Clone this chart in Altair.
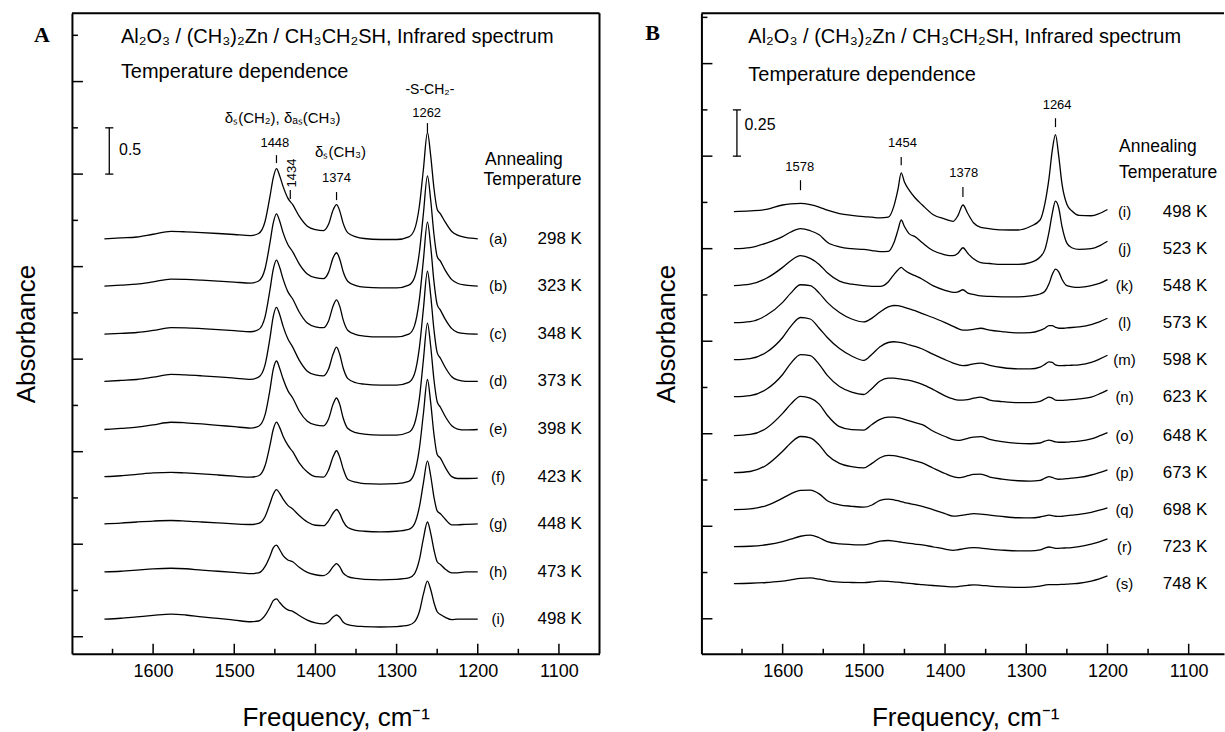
import altair as alt
import pandas as pd

FONT = "Liberation Sans"
SERIF = "Liberation Serif"
H = 641          # plot height (both panels)
W_A = 528        # panel A plot width
W_B = 523        # panel B plot width (right side cut by the page edge)

# ---------------- Panel A (298 K - 498 K) ----------------
FREQ_A = [1660, 1640, 1620, 1600, 1578, 1560, 1540, 1520, 1500, 1480,
          1470, 1462, 1456, 1452, 1448, 1444, 1440, 1434, 1428, 1420,
          1410, 1400, 1390, 1384, 1378, 1374, 1370, 1366, 1360, 1350,
          1340, 1320, 1300, 1285, 1278, 1272, 1267, 1262, 1258, 1254,
          1250, 1246, 1240, 1232, 1225, 1215, 1200]

SPEC_A_a = [0.00, 0.01, 0.02, 0.05, 0.08, 0.076, 0.068, 0.058, 0.047, 0.036,
            0.058, 0.19, 0.46, 0.66, 0.76, 0.68, 0.57, 0.44, 0.37, 0.245,
            0.137, 0.10, 0.09, 0.155, 0.317, 0.37, 0.30, 0.173, 0.065, 0.022,
            0.004, -0.007, -0.007, 0.022, 0.10, 0.35, 0.75, 1.15, 0.90, 0.55,
            0.32, 0.27, 0.18, 0.08, 0.04, 0.015, 0.00]
SPEC_A_b = [0.00, 0.01, 0.02, 0.045, 0.075, 0.072, 0.064, 0.054, 0.043, 0.032,
            0.055, 0.19, 0.47, 0.68, 0.78, 0.70, 0.58, 0.45, 0.37, 0.24,
            0.13, 0.09, 0.08, 0.145, 0.31, 0.36, 0.29, 0.16, 0.05, 0.005,
            -0.012, -0.02, -0.02, 0.01, 0.09, 0.36, 0.78, 1.19, 0.93, 0.56,
            0.32, 0.27, 0.17, 0.07, 0.03, 0.01, 0.00]
SPEC_A_c = [0.00, 0.008, 0.018, 0.04, 0.07, 0.068, 0.06, 0.05, 0.038, 0.026,
            0.05, 0.19, 0.48, 0.70, 0.80, 0.72, 0.60, 0.46, 0.38, 0.24,
            0.12, 0.08, 0.07, 0.14, 0.31, 0.37, 0.30, 0.16, 0.04, -0.005,
            -0.02, -0.03, -0.03, 0.0, 0.09, 0.37, 0.80, 1.21, 0.95, 0.57,
            0.32, 0.26, 0.16, 0.06, 0.02, 0.005, 0.00]
SPEC_A_d = [0.00, 0.01, 0.02, 0.045, 0.075, 0.07, 0.06, 0.048, 0.035, 0.022,
            0.045, 0.18, 0.47, 0.70, 0.80, 0.72, 0.60, 0.46, 0.37, 0.23,
            0.11, 0.07, 0.06, 0.13, 0.30, 0.37, 0.29, 0.15, 0.03, -0.015,
            -0.03, -0.04, -0.04, -0.01, 0.08, 0.36, 0.78, 1.19, 0.93, 0.56,
            0.31, 0.25, 0.15, 0.05, 0.015, 0.0, 0.00]
SPEC_A_e = [0.00, 0.012, 0.025, 0.05, 0.078, 0.072, 0.06, 0.045, 0.03, 0.015,
            0.035, 0.16, 0.43, 0.65, 0.74, 0.66, 0.55, 0.42, 0.34, 0.20,
            0.09, 0.05, 0.04, 0.11, 0.28, 0.34, 0.27, 0.13, 0.01, -0.035,
            -0.05, -0.06, -0.06, -0.03, 0.06, 0.33, 0.75, 1.15, 0.90, 0.54,
            0.30, 0.24, 0.14, 0.04, 0.005, -0.005, 0.00]
SPEC_A_f = [0.00, 0.01, 0.025, 0.04, 0.047, 0.04, 0.03, 0.018, 0.005, -0.005,
            0.01, 0.12, 0.34, 0.51, 0.59, 0.53, 0.44, 0.34, 0.27, 0.15,
            0.05, 0.0, -0.005, 0.07, 0.22, 0.28, 0.21, 0.09, -0.03, -0.06,
            -0.075, -0.08, -0.075, -0.05, 0.04, 0.30, 0.68, 1.05, 0.80, 0.46,
            0.24, 0.20, 0.10, 0.0, -0.02, -0.02, -0.015]
SPEC_A_g = [0.00, 0.008, 0.02, 0.03, 0.036, 0.03, 0.02, 0.01, 0.0, -0.007,
            0.005, 0.08, 0.22, 0.32, 0.37, 0.33, 0.27, 0.2, 0.16, 0.09,
            0.02, -0.015, -0.02, 0.03, 0.12, 0.155, 0.11, 0.03, -0.04, -0.07,
            -0.08, -0.086, -0.08, -0.06, 0.0, 0.18, 0.44, 0.68, 0.52, 0.29,
            0.14, 0.11, 0.05, -0.01, -0.01, -0.005, 0.00]
SPEC_A_h = [0.00, 0.008, 0.02, 0.033, 0.04, 0.035, 0.02, 0.008, -0.005, -0.018,
            -0.01, 0.06, 0.17, 0.26, 0.29, 0.24, 0.18, 0.13, 0.11, 0.05,
            -0.005, -0.03, -0.04, -0.01, 0.06, 0.09, 0.055, -0.01, -0.05, -0.07,
            -0.08, -0.085, -0.08, -0.065, -0.02, 0.13, 0.36, 0.54, 0.42, 0.24,
            0.11, 0.08, 0.03, -0.01, -0.01, 0.0, 0.00]
SPEC_A_i = [0.00, 0.01, 0.025, 0.04, 0.054, 0.045, 0.025, 0.008, -0.01, -0.028,
            -0.02, 0.04, 0.13, 0.2, 0.22, 0.18, 0.14, 0.10, 0.085, 0.04,
            -0.01, -0.04, -0.05, -0.03, 0.025, 0.045, 0.02, -0.03, -0.06, -0.075,
            -0.08, -0.085, -0.08, -0.065, -0.03, 0.08, 0.27, 0.41, 0.32, 0.18,
            0.08, 0.05, 0.02, -0.005, 0.0, 0.0, 0.00]

SPECTRA_A = [SPEC_A_a, SPEC_A_b, SPEC_A_c, SPEC_A_d, SPEC_A_e,
             SPEC_A_f, SPEC_A_g, SPEC_A_h, SPEC_A_i]
IDS_A = ["(a)", "(b)", "(c)", "(d)", "(e)", "(f)", "(g)", "(h)", "(i)"]
TEMPS_A = ["298 K", "323 K", "348 K", "373 K", "398 K", "423 K", "448 K", "473 K", "498 K"]
OFFSETS_A = [4.30, 3.79, 3.27, 2.76, 2.24, 1.73, 1.22, 0.70, 0.19]

# ---------------- Panel B (498 K - 748 K) ----------------
FREQ_B = [1660, 1640, 1620, 1600, 1590, 1578, 1566, 1555, 1545, 1530,
          1515, 1500, 1490, 1480, 1470, 1463, 1458, 1454, 1450, 1444,
          1437, 1428, 1415, 1400, 1390, 1384, 1378, 1372, 1365, 1356,
          1345, 1330, 1310, 1295, 1283, 1277, 1272, 1268, 1264, 1260,
          1256, 1250, 1244, 1235, 1220, 1210, 1200]

SPEC_B_i = [0, 0.004, 0.012, 0.036, 0.042, 0.045, 0.038, 0.025, 0.008, -0.01,
            -0.02, -0.027, -0.03, -0.034, -0.03, 0.03, 0.12, 0.21, 0.16, 0.115,
            0.075, 0.036, -0.015, -0.04, -0.052, -0.02, 0.036, -0.01, -0.06, -0.085,
            -0.092, -0.098, -0.099, -0.08, -0.045, 0.045, 0.18, 0.33, 0.416, 0.30,
            0.15, 0.04, 0.005, -0.02, -0.022, -0.01, 0.012]
SPEC_B_j = [0, 0.006, 0.03, 0.065, 0.09, 0.108, 0.097, 0.075, 0.035, 0.01,
            0.0, -0.004, -0.01, -0.016, -0.015, 0.032, 0.10, 0.155, 0.12, 0.08,
            0.065, 0.032, -0.01, -0.033, -0.038, -0.025, 0.005, -0.025, -0.055, -0.075,
            -0.08, -0.085, -0.085, -0.075, -0.045, -0.004, 0.09, 0.19, 0.257, 0.22,
            0.12, 0.03, 0.005, -0.004, 0.0, 0.015, 0.04]
SPEC_B_k = [0, 0.008, 0.04, 0.099, 0.135, 0.162, 0.148, 0.115, 0.07, 0.025,
            0.008, 0.0, -0.004, -0.004, 0.02, 0.06, 0.085, 0.099, 0.085, 0.068,
            0.054, 0.035, 0.0, -0.025, -0.036, -0.033, -0.022, -0.04, -0.047, -0.055,
            -0.058, -0.06, -0.06, -0.055, -0.045, -0.03, 0.01, 0.06, 0.09, 0.075,
            0.035, 0.0, -0.006, -0.009, 0.0, 0.012, 0.033]
SPEC_B_l = [0, 0.006, 0.04, 0.11, 0.16, 0.205, 0.2, 0.16, 0.11, 0.055,
            0.02, 0.004, 0.025, 0.058, 0.085, 0.093, 0.092, 0.088, 0.083, 0.075,
            0.065, 0.049, 0.028, 0.0, -0.02, -0.032, -0.04, -0.04, -0.036, -0.03,
            -0.04, -0.048, -0.055, -0.054, -0.042, -0.03, -0.016, -0.016, -0.025, -0.03,
            -0.03, -0.028, -0.026, -0.022, -0.01, 0.005, 0.024]
SPEC_B_m = [0, 0.006, 0.04, 0.12, 0.18, 0.228, 0.22, 0.17, 0.12, 0.06,
            0.02, -0.004, 0.03, 0.07, 0.093, 0.097, 0.095, 0.092, 0.088, 0.08,
            0.072, 0.058, 0.03, 0.0, -0.018, -0.027, -0.032, -0.03, -0.022, -0.018,
            -0.03, -0.042, -0.05, -0.05, -0.04, -0.025, -0.012, -0.015, -0.028, -0.032,
            -0.032, -0.031, -0.03, -0.028, -0.015, 0.003, 0.024]
SPEC_B_n = [0, 0.006, 0.04, 0.12, 0.18, 0.228, 0.222, 0.175, 0.115, 0.055,
            0.025, 0.012, 0.045, 0.085, 0.1, 0.1, 0.098, 0.095, 0.092, 0.088,
            0.08, 0.067, 0.04, 0.005, -0.012, -0.018, -0.018, -0.016, -0.008, -0.002,
            -0.018, -0.026, -0.032, -0.032, -0.025, -0.012, -0.002, -0.008, -0.018, -0.02,
            -0.02, -0.018, -0.016, -0.012, -0.002, 0.015, 0.036]
SPEC_B_o = [0, 0.006, 0.04, 0.12, 0.17, 0.212, 0.203, 0.17, 0.11, 0.048,
            0.032, 0.03, 0.06, 0.088, 0.1, 0.1, 0.097, 0.093, 0.088, 0.08,
            0.07, 0.059, 0.025, -0.005, -0.022, -0.026, -0.022, -0.015, -0.008, -0.006,
            -0.02, -0.033, -0.042, -0.044, -0.04, -0.03, -0.024, -0.028, -0.034, -0.036,
            -0.036, -0.035, -0.033, -0.03, -0.018, -0.002, 0.016]
SPEC_B_p = [0, 0.006, 0.04, 0.115, 0.16, 0.195, 0.188, 0.15, 0.095, 0.05,
            0.032, 0.025, 0.05, 0.08, 0.093, 0.092, 0.088, 0.084, 0.079, 0.072,
            0.064, 0.052, 0.025, -0.005, -0.022, -0.027, -0.024, -0.017, -0.01, -0.008,
            -0.024, -0.035, -0.044, -0.046, -0.042, -0.03, -0.022, -0.026, -0.033, -0.036,
            -0.035, -0.033, -0.03, -0.026, -0.013, 0.0, 0.015]
SPEC_B_q = [0, 0.004, 0.022, 0.062, 0.085, 0.104, 0.105, 0.085, 0.048, 0.026,
            0.018, 0.013, 0.025, 0.05, 0.057, 0.053, 0.048, 0.043, 0.038, 0.033,
            0.027, 0.018, 0.0, -0.022, -0.035, -0.034, -0.03, -0.026, -0.022, -0.024,
            -0.03, -0.037, -0.044, -0.045, -0.04, -0.034, -0.03, -0.033, -0.036, -0.037,
            -0.036, -0.033, -0.03, -0.026, -0.015, -0.003, 0.01]
SPEC_B_r = [0, 0.002, 0.01, 0.027, 0.04, 0.056, 0.062, 0.048, 0.027, 0.015,
            0.011, 0.009, 0.018, 0.03, 0.033, 0.03, 0.027, 0.024, 0.021, 0.018,
            0.014, 0.009, -0.001, -0.013, -0.02, -0.017, -0.012, -0.008, -0.005, -0.008,
            -0.014, -0.019, -0.023, -0.023, -0.018, -0.008, -0.002, -0.005, -0.009, -0.009,
            -0.008, -0.007, -0.005, 0.0, 0.014, 0.026, 0.042]
SPEC_B_s = [0, 0.002, 0.006, 0.013, 0.02, 0.028, 0.031, 0.024, 0.015, 0.008,
            0.006, 0.005, 0.009, 0.013, 0.012, 0.01, 0.008, 0.006, 0.004, 0.001,
            -0.002, -0.005, -0.01, -0.015, -0.018, -0.016, -0.012, -0.009, -0.007, -0.009,
            -0.013, -0.017, -0.02, -0.019, -0.014, -0.008, -0.005, -0.005, -0.005, -0.005,
            -0.004, -0.003, -0.001, 0.002, 0.014, 0.026, 0.042]

SPECTRA_B = [SPEC_B_i, SPEC_B_j, SPEC_B_k, SPEC_B_l, SPEC_B_m, SPEC_B_n,
             SPEC_B_o, SPEC_B_p, SPEC_B_q, SPEC_B_r, SPEC_B_s]
IDS_B = ["(i)", "(j)", "(k)", "(l)", "(m)", "(n)", "(o)", "(p)", "(q)", "(r)", "(s)"]
TEMPS_B = ["498 K", "523 K", "548 K", "573 K", "598 K", "623 K", "648 K",
           "673 K", "698 K", "723 K", "748 K"]
OFFSETS_B = [2.20, 2.00, 1.80, 1.60, 1.40, 1.20, 0.99, 0.79, 0.59, 0.39, 0.19]

for s in SPECTRA_A:
    assert len(s) == len(FREQ_A)
for s in SPECTRA_B:
    assert len(s) == len(FREQ_B)

# ---------------- axes / annotations ----------------
X_LABELS = [1600, 1500, 1400, 1300, 1200, 1100]
X_MINOR = [1650, 1550, 1450, 1350, 1250, 1150]

TITLE_1 = "Al\u2082O\u2083 / (CH\u2083)\u2082Zn / CH\u2083CH\u2082SH, Infrared spectrum"
TITLE_2 = "Temperature dependence"

ANN_A = dict(
    center=[(1440.4, 5.605, "\u03b4\u209b(CH\u2082), \u03b4\u2090\u209b(CH\u2083)", 15),
            (1450.0, 5.335, "1448", 13),
            (1369.0, 5.24, "\u03b4\u209b(CH\u2083)", 15),
            (1374.0, 4.957, "1374", 13),
            (1259.0, 5.907, "-S-CH\u2082-", 14),
            (1263.0, 5.659, "1262", 13)],
    left=[(1639.7, 6.479, TITLE_1, 20),
          (1639.7, 6.10, TITLE_2, 20),
          (1642.0, 5.26, "0.5", 16),
          (1191.0, 5.151, "Annealing", 17.5),
          (1193.0, 4.935, "Temperature", 17.5)],
    rot=[(1428.6, 5.011, "1434", 13)],
    ticks=[(1448, 5.205, 5.119), (1431, 4.827, 4.730),
           (1374, 4.806, 4.719), (1262, 5.551, 5.454)],
    bar=(1654.0, 5.0, 5.5),
    letter=(1737.0, 6.50, "A"),
    id_f=1175.0, temp_f=1099.0,
)
ANN_B = dict(
    center=[(1579.0, 2.442, "1578", 13),
            (1452.5, 2.570, "1454", 13),
            (1377.0, 2.408, "1378", 13),
            (1262.0, 2.775, "1264", 13)],
    left=[(1642.2, 3.143, TITLE_1, 20),
          (1642.2, 2.937, TITLE_2, 20),
          (1647.0, 2.667, "0.25", 16),
          (1185.7, 2.549, "Annealing", 17.5),
          (1185.7, 2.408, "Temperature", 17.5)],
    rot=[],
    ticks=[(1578, 2.370, 2.316), (1454, 2.495, 2.451),
           (1378, 2.333, 2.279), (1264, 2.705, 2.657)],
    bar=(1656.3, 2.5, 2.75),
    letter=(1760.0, 3.164, "B"),
    id_f=1179.0, temp_f=1104.5,
)


def build_panel(freqs, spectra, ids, temps, offsets, ann, xdom, ydom,
                ymajor, yminor, width, ytitle_x, right_frame, anchor):
    xs = alt.Scale(domain=xdom, reverse=True, nice=False, zero=False)
    ys = alt.Scale(domain=ydom, nice=False, zero=False)

    xaxis = alt.Axis(values=X_LABELS, format="d", title="Frequency, cm\u207b\u00b9",
                     ticks=False, grid=False, labelPadding=9, labelFontSize=18,
                     labelFont=FONT, labelColor="black", domainColor="black",
                     domainWidth=2, titleFont=FONT, titleFontSize=26,
                     titleFontWeight="normal", titleColor="black", titleX=264,
                     titleY=72, titleBaseline="alphabetic", titleAlign="center",
                     labelFlush=False)
    yaxis = alt.Axis(labels=False, ticks=False, grid=False, title="Absorbance",
                     domainColor="black", domainWidth=2, titleFont=FONT,
                     titleFontSize=26, titleFontWeight="normal", titleColor="black",
                     titleX=ytitle_x, titleY=H / 2, titleAngle=270,
                     titleBaseline="middle", titleAlign="center")

    def X(field):
        return alt.X(field, type="quantitative", scale=xs, axis=xaxis)

    def Y(field):
        return alt.Y(field, type="quantitative", scale=ys, axis=yaxis)

    rows = []
    for sid, vals, off in zip(ids, spectra, offsets):
        for f, v in zip(freqs, vals):
            rows.append({"f": f, "v": v + off, "s": sid})
    df = pd.DataFrame(rows)

    lines = alt.Chart(df).mark_line(color="black", strokeWidth=1.3,
                                    interpolate="monotone").encode(
        x=X("f"), y=Y("v"), detail="s:N",
    )

    layers = [lines]

    lab_df = pd.DataFrame({"id": ids, "temp": temps, "v": offsets,
                           "fi": [ann["id_f"]] * len(ids),
                           "ft": [ann["temp_f"]] * len(ids)})
    layers.append(alt.Chart(lab_df).mark_text(font=FONT, fontSize=15, color="black",
                                              align="center", baseline="middle").encode(
        x=X("fi"), y=Y("v"), text="id:N"))
    layers.append(alt.Chart(lab_df).mark_text(font=FONT, fontSize=17, color="black",
                                              align="center", baseline="middle").encode(
        x=X("ft"), y=Y("v"), text="temp:N"))

    for key, align in (("center", "center"), ("left", "left")):
        tdf = pd.DataFrame(ann[key], columns=["f", "v", "t", "size"])
        layers.append(alt.Chart(tdf).mark_text(font=FONT, color="black", align=align,
                                               baseline="middle").encode(
            x=X("f"), y=Y("v"), text="t:N", size=alt.Size("size:Q", scale=None)))
    if ann["rot"]:
        rdf = pd.DataFrame(ann["rot"], columns=["f", "v", "t", "size"])
        layers.append(alt.Chart(rdf).mark_text(font=FONT, color="black", align="center",
                                               baseline="middle", angle=270).encode(
            x=X("f"), y=Y("v"), text="t:N", size=alt.Size("size:Q", scale=None)))

    ldf = pd.DataFrame([ann["letter"]], columns=["f", "v", "t"])
    layers.append(alt.Chart(ldf).mark_text(font=SERIF, fontWeight="bold", fontSize=22,
                                           color="black", align="center",
                                           baseline="middle").encode(
        x=X("f"), y=Y("v"), text="t:N"))

    # peak marker ticks
    pdf = pd.DataFrame(ann["ticks"], columns=["f", "v1", "v2"])
    layers.append(alt.Chart(pdf).mark_rule(color="black", strokeWidth=1.2).encode(
        x=X("f"), y=Y("v1"), y2="v2:Q"))

    # scale bar
    bf, bv1, bv2 = ann["bar"]
    bar_df = pd.DataFrame({"f": [bf], "v1": [bv1], "v2": [bv2]})
    layers.append(alt.Chart(bar_df).mark_rule(color="black", strokeWidth=1.3).encode(
        x=X("f"), y=Y("v1"), y2="v2:Q"))
    cap_df = pd.DataFrame({"f1": [bf + 5, bf + 5], "f2": [bf - 5, bf - 5], "v": [bv1, bv2]})
    layers.append(alt.Chart(cap_df).mark_rule(color="black", strokeWidth=1.3).encode(
        x=X("f1"), x2="f2:Q", y=Y("v")))

    # inward axis ticks
    lo, hi = min(xdom), max(xdom)
    xmaj = pd.DataFrame({"f": [t for t in X_LABELS if lo <= t <= hi]})
    xmin = pd.DataFrame({"f": [t for t in X_MINOR if lo <= t <= hi]})
    layers.append(alt.Chart(xmaj).mark_rule(color="black", strokeWidth=1.5).encode(
        x=X("f"), y=alt.value(H), y2=alt.value(H - 10)))
    layers.append(alt.Chart(xmin).mark_rule(color="black", strokeWidth=1.5).encode(
        x=X("f"), y=alt.value(H), y2=alt.value(H - 5)))
    ymaj = pd.DataFrame({"v": ymajor})
    ymin = pd.DataFrame({"v": yminor})
    layers.append(alt.Chart(ymaj).mark_rule(color="black", strokeWidth=1.5).encode(
        y=Y("v"), x=alt.value(0), x2=alt.value(11)))
    layers.append(alt.Chart(ymin).mark_rule(color="black", strokeWidth=1.5).encode(
        y=Y("v"), x=alt.value(0), x2=alt.value(6)))

    # frame (top, and right for panel A)
    one = pd.DataFrame({"k": [0]})
    layers.append(alt.Chart(one).mark_rule(color="black", strokeWidth=2).encode(
        x=alt.value(0), x2=alt.value(width), y=alt.value(0)))
    if right_frame:
        layers.append(alt.Chart(one).mark_rule(color="black", strokeWidth=2).encode(
            x=alt.value(width), y=alt.value(0), y2=alt.value(H)))
    if anchor:
        layers.append(alt.Chart(one).mark_rule(strokeOpacity=0, strokeWidth=1).encode(
            x=alt.value(-71.5), x2=alt.value(-71.5), y=alt.value(-12.5), y2=alt.value(-12.5)))

    return alt.layer(*layers).properties(width=width, height=H)


panel_a = build_panel(FREQ_A, SPECTRA_A, IDS_A, TEMPS_A, OFFSETS_A, ANN_A,
                      xdom=[1050, 1700], ydom=[-0.184, 6.738],
                      ymajor=[0, 1, 2, 3, 4, 5, 6],
                      yminor=[0.5, 1.5, 2.5, 3.5, 4.5, 5.5, 6.5],
                      width=W_A, ytitle_x=-45, right_frame=True, anchor=True)
panel_b = build_panel(FREQ_B, SPECTRA_B, IDS_B, TEMPS_B, OFFSETS_B, ANN_B,
                      xdom=[1056.5, 1700], ydom=[-0.189, 3.272],
                      ymajor=[0, 0.5, 1.0, 1.5, 2.0, 2.5, 3.0],
                      yminor=[0.25, 0.75, 1.25, 1.75, 2.25, 2.75, 3.25],
                      width=W_B, ytitle_x=-35, right_frame=False, anchor=False)

chart = alt.hconcat(panel_a, panel_b, spacing=102).resolve_scale(
    x="independent", y="independent"
).properties(
    bounds="flush",
    padding={"left": 0, "top": 0, "right": 0, "bottom": 0},
    background="white",
).configure_view(stroke=None)

chart.save("out.html", embed_options={"renderer": "svg", "actions": False})
